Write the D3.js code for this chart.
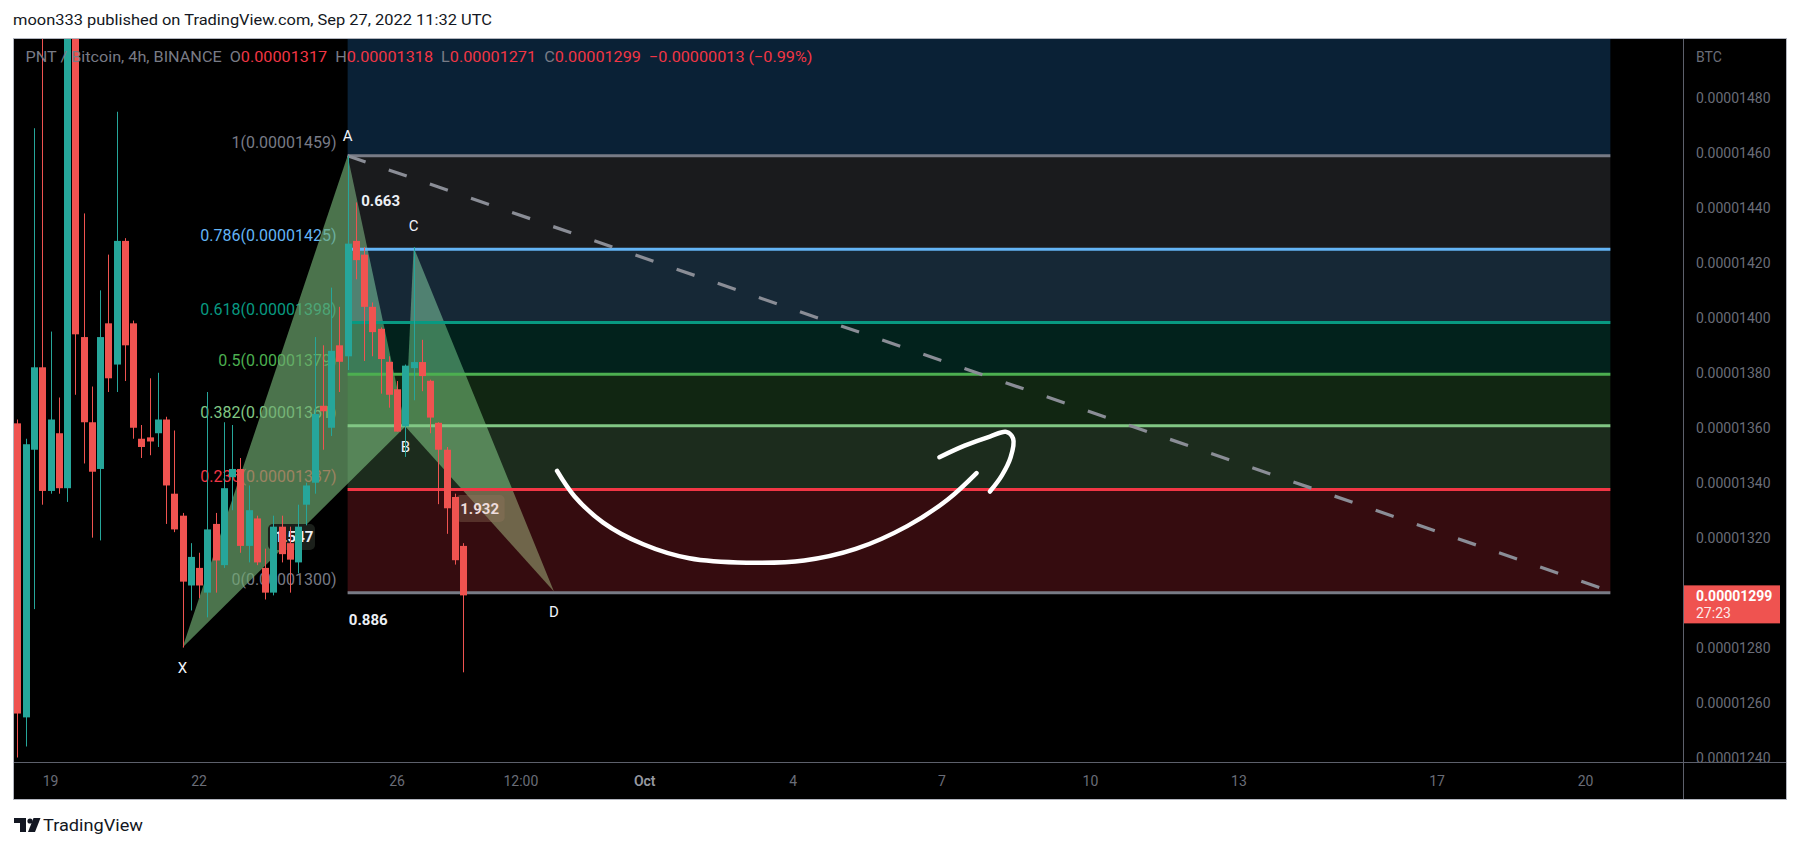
<!DOCTYPE html>
<html><head><meta charset="utf-8">
<script src="https://cdn.jsdelivr.net/npm/d3@7"></script>
<style>
html,body{margin:0;padding:0;background:#ffffff;}
svg{display:block;}
</style></head><body>
<svg id="c" width="1801" height="849"></svg>
<script>
// ---------- DATA (prices in satoshi = 1e-8 BTC) ----------
const headerText = "moon333 published on TradingView.com, Sep 27, 2022 11:32 UTC";
const symbolText = "PNT / Bitcoin, 4h, BINANCE";
const legendKeys = ["O","H","L","C"];
const legendVals = ["0.00001317","0.00001318","0.00001271","0.00001299"];
const legendChange = "\u22120.00000013 (\u22120.99%)";

const firstCandle = "2022-09-18T08:00:00Z"; // 4h candles
const opens  = [1361.6,1254.6,1352,1382,1337,1358,1338,1530,1393,1362,1345,1398,1383,1428,1398,1356,1356.5,1358,1363,1336,1328,1302.6,1309,1300,1325,1310,1342,1345,1317,1327,1309,1300,1324,1318,1311,1332,1340,1368,1360,1390,1386,1428,1423,1404,1396,1384,1374,1360.5,1381.7,1383.9,1377.1,1361.8,1352,1334.8,1317];
const highs  = [1363,1356,1469,1510,1395,1371,1560,1560,1438,1375,1410,1423,1475,1429,1399,1361,1378,1380,1364,1359,1329,1318,1314.5,1373,1329,1362,1361,1349,1339,1328,1316,1328,1328,1324,1332,1340,1393,1390,1411,1404,1459,1442,1425.7,1405.6,1396.5,1386,1377,1383,1425.7,1392,1377.5,1362,1353,1336,1318];
const lows   = [1240,1244,1294,1332,1336,1336,1333,1372,1347,1320,1319,1373,1373,1377,1356,1349,1350,1353,1325,1322,1280,1293.5,1298,1291,1300,1309,1330,1314.5,1311,1310,1297.5,1299,1311,1300,1307,1324.5,1336,1352,1357,1373,1381,1414,1384.3,1386,1372.4,1367.3,1358.6,1349.4,1370,1373.3,1358,1332.2,1321.4,1310.2,1271];
const closes = [1256,1354,1382,1337,1363,1338,1530,1394,1362,1344,1393,1378,1428,1390,1360,1353,1355,1363,1339,1323,1304,1313,1302.6,1323,1311.7,1338,1345,1317,1330,1311,1300,1324,1314,1312,1324,1339,1365,1366,1388,1384,1427,1421,1404,1394.8,1385,1372,1358.6,1382.6,1383.9,1378.8,1363.7,1352,1330.7,1311.8,1299];

const priceTicks = [1240,1260,1280,1300,1320,1340,1360,1380,1400,1420,1440,1460,1480];
const timeTickDates  = ["2022-09-19T00:00Z","2022-09-22T00:00Z","2022-09-26T00:00Z","2022-09-28T12:00Z","2022-10-01T00:00Z","2022-10-04T00:00Z","2022-10-07T00:00Z","2022-10-10T00:00Z","2022-10-13T00:00Z","2022-10-17T00:00Z","2022-10-20T00:00Z"];
const timeTickLabels = ["19","22","26","12:00","Oct","4","7","10","13","17","20"];

const fibRatios = [0,0.236,0.382,0.5,0.618,0.786,1,1.618];
const fibPrices = [1300,1337.5,1360.7,1379.5,1398.3,1425,1459,1557.3];
const fibLabels = ["0(0.00001300)","0.236(0.00001337)","0.382(0.00001361)","0.5(0.00001379)","0.618(0.00001398)","0.786(0.00001425)","1(0.00001459)","1.618(0.00001557)"];
const fibStart = "2022-09-25T00:00Z";
const fibEnd   = "2022-10-20T12:00Z";

const patternNames  = ["X","A","B","C","D"];
const patternTimes  = ["2022-09-21T16:00Z","2022-09-25T00:00Z","2022-09-26T04:00Z","2022-09-26T08:00Z","2022-09-29T04:00Z"];
const patternPrices = [1280,1459,1360.5,1425.7,1300.4];
const ratioTexts = ["1.547","0.663","1.932","0.886"];
const ratioLegs  = [["X","B"],["A","C"],["B","D"],["X","D"]];

const trendStart = {time:"2022-09-25T00:00Z", price:1459};
const trendEnd   = {time:"2022-10-20T12:00Z", price:1300.5};

// free-hand arrow (days after Sep 19 00:00 UTC, price)
const arrowBodyDays   = [10.23,10.58,11.16,11.97,12.90,14.06,15.22,16.26,17.30,18.12,18.70];
const arrowBodyPrices = [1344.3,1335.1,1325.5,1317.6,1312.5,1310.9,1311.7,1315.9,1324.2,1333.9,1343.5];
const arrowHeadDays   = [17.95,18.46,18.97,19.30,19.44,19.39,19.21,18.97];
const arrowHeadPrices = [1349.3,1353.5,1356.8,1358.5,1356.0,1349.3,1342.6,1336.8];

const lastPriceText = "0.00001299";
const countdownText = "27:23";

// ---------- LAYOUT ----------
const FL = 13, FR = 1787, FT = 38, FB = 800; // frame
const PR = 1683, PB = 762;                   // plot right / bottom
const FONT = "Roboto, 'Open Sans', sans-serif";

const svg = d3.select("#c");
const x = d3.scaleUtc()
  .domain([new Date("2022-09-19T00:00Z"), new Date("2022-10-20T00:00Z")])
  .range([50.5, 1585.6]);
const y = d3.scaleLinear().domain([1240, 1480]).range([757.5, 98]);
const dayMs = 864e5, t19 = Date.parse("2022-09-19T00:00Z");
const yMaxVisible = y.invert(FT);

const candles = opens.map((o,i) => ({
  t: new Date(Date.parse(firstCandle) + i*4*3600e3), o, h: highs[i], l: lows[i], c: closes[i]
}));

// header
svg.append("text").attr("x",13).attr("y",25).attr("font-family",FONT).attr("font-size",15.5)
  .attr("fill","#131722").attr("textLength",479).attr("lengthAdjust","spacingAndGlyphs").text(headerText);

// frame background
svg.append("rect").attr("x",FL).attr("y",FT).attr("width",FR-FL).attr("height",FB-FT).attr("fill","#000");

const defs = svg.append("defs");
defs.append("clipPath").attr("id","plotclip").append("rect")
  .attr("x",FL).attr("y",FT).attr("width",PR-FL).attr("height",PB-FT);
const plot = svg.append("g").attr("clip-path","url(#plotclip)");

const fx0 = x(new Date(fibStart)), fx1 = x(new Date(fibEnd));
const fibColors = ["#787b86","#f23645","#81c784","#4caf50","#089981","#64b5f6","#787b86","#2d96f5"];

// fib labels (left of box) - only levels inside the visible price range
fibLabels.forEach((lab,i) => {
  if (fibPrices[i] > yMaxVisible) return;
  plot.append("text").attr("x",fx0-11).attr("y",y(fibPrices[i])-8)
    .attr("text-anchor","end").attr("font-family",FONT).attr("font-size",16)
    .attr("fill",fibColors[i]).text(lab);
});

// harmonic pattern triangles
const P = {};
patternNames.forEach((n,i)=>{ P[n] = {x:x(new Date(patternTimes[i])), y:y(patternPrices[i])}; });
const tri = pts => "M" + pts.map(n=>P[n].x+","+P[n].y).join("L") + "Z";
const triFill = "rgb(112,172,114)";
plot.append("path").attr("d",tri(["X","A","B"])).attr("fill",triFill).attr("fill-opacity",0.67);
plot.append("path").attr("d",tri(["B","C","D"])).attr("fill",triFill).attr("fill-opacity",0.67);

// fib bands (overlay)
for (let i=0;i<fibPrices.length-1;i++){
  const yTop = y(fibPrices[i+1]), yBot = y(fibPrices[i]);
  plot.append("rect").attr("x",fx0).attr("y",yTop).attr("width",fx1-fx0).attr("height",yBot-yTop)
    .attr("fill",fibColors[i+1]).attr("fill-opacity",0.22);
}
// fib lines
fibPrices.forEach((p,i)=>{
  plot.append("line").attr("x1",fx0).attr("x2",fx1).attr("y1",y(p)).attr("y2",y(p))
    .attr("stroke",fibColors[i]).attr("stroke-width",3);
});

// dashed trend line
plot.append("line")
  .attr("x1",x(new Date(trendStart.time))).attr("y1",y(trendStart.price))
  .attr("x2",x(new Date(trendEnd.time))).attr("y2",y(trendEnd.price))
  .attr("stroke","#8a8d96").attr("stroke-width",3.2).attr("stroke-dasharray","19 24.5");

// ratio labels
ratioTexts.forEach((txt,i)=>{
  const a = P[ratioLegs[i][0]], b = P[ratioLegs[i][1]];
  const cx = (a.x+b.x)/2, cy = (a.y+b.y)/2;
  if (txt==="1.547") {
    plot.append("rect").attr("x",cx-26).attr("y",cy-13).attr("width",47).attr("height",26).attr("rx",5)
      .attr("fill","#1b201b");
  }
  if (txt==="1.932") {
    plot.append("rect").attr("x",cx-24).attr("y",cy-14).attr("width",49).attr("height",27).attr("rx",5)
      .attr("fill","rgb(150,120,95)").attr("fill-opacity",0.35);
  }
  plot.append("text").attr("x",cx).attr("y",cy+5).attr("text-anchor","middle")
    .attr("font-family",FONT).attr("font-size",15).attr("font-weight",700)
    .attr("fill", txt==="1.932" ? "#eedcdc" : "#eceff4").text(txt);
});

// point letters
const letterOff = {X:25, A:-15, B:26, C:-16, D:25};
patternNames.forEach(n=>{
  plot.append("text").attr("x",P[n].x).attr("y",P[n].y+letterOff[n]).attr("text-anchor","middle")
    .attr("font-family",FONT).attr("font-size",15).attr("fill","#f0f3fa").text(n);
});

// candles
const up = "#26a69a", dn = "#ef5350";
const gc = plot.append("g");
candles.forEach(d=>{
  const cx = Math.round(x(d.t)) + 0.5;
  const col = d.c >= d.o ? up : dn;
  gc.append("line").attr("x1",cx).attr("x2",cx).attr("y1",y(d.h)).attr("y2",y(d.l))
    .attr("stroke",col).attr("stroke-width",1);
  const yt = y(Math.max(d.o,d.c)), yb = y(Math.min(d.o,d.c));
  gc.append("rect").attr("x",cx-3.5).attr("y",yt).attr("width",7).attr("height",Math.max(1,yb-yt))
    .attr("fill",col);
});

// free-hand arrow
const toXY = (days,prices) => days.map((d,i)=>[x(new Date(t19 + d*dayMs)), y(prices[i])]);
const ln = d3.line().curve(d3.curveCatmullRom.alpha(0.5));
plot.append("path").attr("d",ln(toXY(arrowBodyDays,arrowBodyPrices))).attr("fill","none")
  .attr("stroke","#ffffff").attr("stroke-width",4.5).attr("stroke-linecap","round").attr("stroke-linejoin","round");
plot.append("path").attr("d",ln(toXY(arrowHeadDays,arrowHeadPrices))).attr("fill","none")
  .attr("stroke","#ffffff").attr("stroke-width",4.5).attr("stroke-linecap","round").attr("stroke-linejoin","round");

// legend
const lg = svg.append("text").attr("x",25.5).attr("y",62).attr("font-family",FONT).attr("font-size",15)
  .attr("textLength",787).attr("lengthAdjust","spacingAndGlyphs").attr("xml:space","preserve");
lg.append("tspan").attr("fill","#787b86").text(symbolText + "  ");
legendKeys.forEach((k,i)=>{
  lg.append("tspan").attr("fill","#787b86").text(k);
  lg.append("tspan").attr("fill","#f23645").text(legendVals[i] + "  ");
});
lg.append("tspan").attr("fill","#f23645").text(legendChange);

// price axis
const axisCol = "#6a6d78";
priceTicks.forEach(v=>{
  svg.append("text").attr("x",1696).attr("y",y(v)+5).attr("font-family",FONT).attr("font-size",14)
    .attr("fill",axisCol).text((v*1e-8).toFixed(8));
});
svg.append("text").attr("x",1696).attr("y",62).attr("font-family",FONT).attr("font-size",14)
  .attr("fill",axisCol).text("BTC");

// last price tag
const lastY = y(closes[closes.length-1]);
svg.append("rect").attr("x",PR).attr("y",lastY-10).attr("width",97).attr("height",38).attr("fill","#ef5350");
svg.append("text").attr("x",1696).attr("y",lastY+5.5).attr("font-family",FONT).attr("font-size",14)
  .attr("font-weight",700).attr("fill","#ffffff").text(lastPriceText);
svg.append("text").attr("x",1696).attr("y",lastY+23).attr("font-family",FONT).attr("font-size",14)
  .attr("fill","#ffffff").attr("fill-opacity",0.9).text(countdownText);

// time axis
timeTickDates.forEach((t,i)=>{
  svg.append("text").attr("x",x(new Date(t))).attr("y",786).attr("text-anchor","middle")
    .attr("font-family",FONT).attr("font-size",14)
    .attr("fill", timeTickLabels[i]==="Oct" ? "#9598a1" : axisCol)
    .attr("font-weight", timeTickLabels[i]==="Oct" ? 600 : 400)
    .text(timeTickLabels[i]);
});

// separators and frame
svg.append("line").attr("x1",FL).attr("x2",FR).attr("y1",PB+0.5).attr("y2",PB+0.5).attr("stroke","#5d606b");
svg.append("line").attr("x1",PR+0.5).attr("x2",PR+0.5).attr("y1",FT).attr("y2",FB).attr("stroke","#5d606b");
svg.append("rect").attr("x",FL+0.5).attr("y",FT+0.5).attr("width",FR-FL-1).attr("height",FB-FT-1)
  .attr("fill","none").attr("stroke","#b2b5be");

// TradingView logo
const logo = svg.append("g").attr("fill","#131722");
logo.append("path").attr("d","M14,818 H26 V832 H20 V823 H14 Z");
logo.append("circle").attr("cx",30).attr("cy",821).attr("r",2.6);
logo.append("path").attr("d","M33.5,818 H40.5 L35,832 H28 Z");
svg.append("text").attr("x",43).attr("y",831).attr("font-family",FONT).attr("font-size",16.5)
  .attr("fill","#131722").attr("textLength",100).attr("lengthAdjust","spacingAndGlyphs").text("TradingView");
</script>
</body></html>
